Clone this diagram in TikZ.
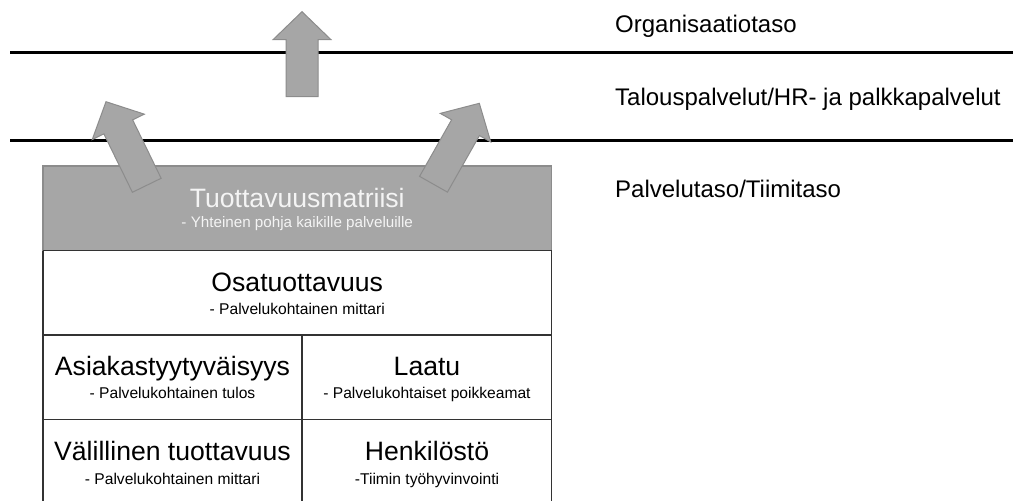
\documentclass[tikz,border=0pt]{standalone}
\usepackage{fontspec}
\setmainfont{Liberation Sans}
\definecolor{boxgray}{HTML}{A6A6A6}
\definecolor{edgegray}{HTML}{8C8C8C}
\definecolor{gridline}{HTML}{333333}
\definecolor{paletext}{HTML}{F4F4F4}
\begin{document}
\begin{tikzpicture}[x=1pt,y=-1pt,
  levelline/.style={line width=3pt, black},
  cellline/.style={line width=1.5pt, draw=gridline},
  blockarrow/.style={fill=boxgray, draw=edgegray, line width=1pt, line join=miter},
  big/.style={font=\fontsize{26.6}{30}\selectfont, anchor=base, inner sep=0pt},
  small/.style={font=\fontsize{15.6}{18}\selectfont, anchor=base, inner sep=0pt},
  headsmall/.style={font=\fontsize{15.2}{18}\selectfont, anchor=base, inner sep=0pt},
  level/.style={font=\fontsize{24}{28}\selectfont, anchor=base west, inner sep=0pt},
  pics/uparrow/.style={code={
    \draw[blockarrow] (0,0) -- (29,28) -- (16,28) -- (16,#1) -- (-16,#1)
      -- (-16,28) -- (-29,28) -- cycle;}},
]
\useasboundingbox (0,0) rectangle (1013,501);
\clip (0,0) rectangle (1013,501);

% level separators
\draw[levelline] (10,52) -- (1013,52);
\draw[levelline] (10,140) -- (1013,140);

% level names
\node[level] (org) at (615,32) {Organisaatiotaso};
\node[level] (talous) at (615,105.5) {Talouspalvelut/HR- ja palkkapalvelut};
\node[level] (palvelu) at (615,197) {Palvelutaso/Tiimitaso};

% header block
\draw[fill=boxgray, draw=edgegray, line width=1.5pt] (43,166) rectangle (551.5,250.5);
\node[big, text=paletext] (tm) at (297.25,207) {Tuottavuusmatriisi};
\node[headsmall, text=paletext] (tmsub) at (297.25,227) {- Yhteinen pohja kaikille palveluille};

% grid of the matrix
\draw[cellline] (43,250.5) -- (551.5,250.5);
\draw[cellline] (43,250.5) -- (43,510);
\draw[cellline] (551.5,250.5) -- (551.5,510);
\draw[cellline] (43,335) -- (551.5,335);
\draw[cellline] (43,419.5) -- (551.5,419.5);
\draw[cellline] (302,335) -- (302,510);

% cell texts
\node[big] (osa) at (297.25,291) {Osatuottavuus};
\node[small] (osasub) at (297.25,314) {- Palvelukohtainen mittari};
\node[big] (asiakas) at (172.5,375) {Asiakastyytyväisyys};
\node[small] (asiakassub) at (172.5,398) {- Palvelukohtainen tulos};
\node[big] (laatu) at (427,375) {Laatu};
\node[small] (laatusub) at (427,398) {- Palvelukohtaiset poikkeamat};
\node[big] (valillinen) at (172.5,460) {Välillinen tuottavuus};
\node[small] (valsub) at (172.5,484) {- Palvelukohtainen mittari};
\node[big] (henk) at (427,460) {Henkilöstö};
\node[small] (henksub) at (427,484) {-Tiimin työhyvinvointi};

% upward arrows
\pic at (302,11.7) {uparrow=85};
\pic[rotate=26] at (106,101.7) {uparrow=93};
\pic[rotate=-29.5] at (479.3,103.3) {uparrow=93};
\end{tikzpicture}
\end{document}
